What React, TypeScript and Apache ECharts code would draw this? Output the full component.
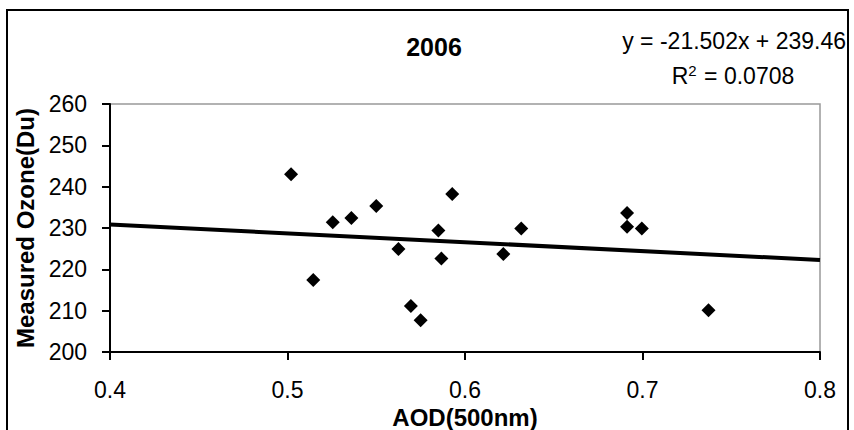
import React, { useEffect, useRef } from "react";
import * as echarts from "echarts";

const aod = [0.502, 0.5145, 0.5255, 0.536, 0.55, 0.5625, 0.5695, 0.575, 0.585, 0.5867, 0.5928, 0.6216, 0.6317, 0.6913, 0.6913, 0.6996, 0.7372];
const ozone = [243.0, 217.4, 231.4, 232.4, 235.3, 224.9, 211.1, 207.7, 229.4, 222.6, 238.2, 223.7, 229.9, 233.6, 230.3, 229.9, 210.1];
const slope = -21.502;
const intercept = 239.46;
const rSquared = "0.0708";
const trendX = [0.4, 0.8];
const xTicks = { min: 0.4, max: 0.8, interval: 0.1 };
const yTicks = { min: 200, max: 260, interval: 10 };
const title = "2006";
const xName = "AOD(500nm)";
const yName = "Measured Ozone(Du)";

const FONT = "'Liberation Sans', Arial, sans-serif";

export default function App() {
  const ref = useRef<HTMLDivElement>(null);
  useEffect(() => {
    if (!ref.current) return;
    const chart = echarts.init(ref.current, null, { renderer: "svg" });
    const points = aod.map((x, i) => [x, ozone[i]]);
    const trend = trendX.map((x) => [x, slope * x + intercept]);
    chart.setOption({
      animation: false,
      backgroundColor: "#fff",
      textStyle: { fontFamily: FONT },
      title: {
        text: title,
        left: 429,
        top: 29,
        textAlign: "center",
        textStyle: { fontFamily: FONT, fontSize: 25, fontWeight: "bold", color: "#000" },
      },
      grid: {
        left: 110,
        right: 34,
        top: 104,
        bottom: 78,
        show: true,
        borderColor: "#999",
        borderWidth: 1.5,
        backgroundColor: "#fff",
        outerBoundsMode: "none",
        containLabel: false,
      },
      xAxis: {
        type: "value",
        min: xTicks.min,
        max: xTicks.max,
        interval: xTicks.interval,
        name: xName,
        nameLocation: "middle",
        nameGap: 52,
        nameTextStyle: { fontFamily: FONT, fontSize: 24, fontWeight: "bold", color: "#000" },
        axisLine: { show: true, onZero: false, lineStyle: { color: "#000", width: 2 } },
        axisTick: { show: true, inside: false, length: 8, lineStyle: { color: "#000", width: 2 } },
        axisLabel: { fontFamily: FONT, fontSize: 23, color: "#000", margin: 26, formatter: (v: number) => v.toFixed(1) },
        splitLine: { show: false },
      },
      yAxis: {
        type: "value",
        min: yTicks.min,
        max: yTicks.max,
        interval: yTicks.interval,
        name: yName,
        nameLocation: "middle",
        nameGap: 69,
        nameTextStyle: { fontFamily: FONT, fontSize: 24, fontWeight: "bold", color: "#000" },
        axisLine: { show: true, onZero: false, lineStyle: { color: "#000", width: 2 } },
        axisTick: { show: true, inside: false, length: 8, lineStyle: { color: "#000", width: 2 } },
        axisLabel: { fontFamily: FONT, fontSize: 23, color: "#000", margin: 23 },
        splitLine: { show: false },
      },
      graphic: [
        {
          type: "rect",
          shape: { x: 7, y: 10, width: 841, height: 440 },
          style: { fill: "none", stroke: "#000", lineWidth: 2 },
          silent: true,
        },
        {
          type: "text",
          x: 846,
          y: 41,
          style: {
            text: `y = ${slope}x + ${intercept}`,
            fontFamily: FONT,
            fontSize: 23,
            fill: "#000",
            align: "right",
            verticalAlign: "middle",
          },
        },
        {
          type: "text",
          x: 733,
          y: 76,
          style: {
            text: `R{sup|2} = ${rSquared}`,
            fontFamily: FONT,
            fontSize: 23,
            fill: "#000",
            align: "center",
            verticalAlign: "middle",
            rich: {
              sup: { fontFamily: FONT, fontSize: 15, fill: "#000", verticalAlign: "top", padding: [0, 1, 12, 0] },
            },
          },
        },
      ],
      series: [
        {
          type: "line",
          data: trend,
          symbol: "none",
          lineStyle: { color: "#000", width: 4 },
          silent: true,
          z: 2,
        },
        {
          type: "scatter",
          data: points,
          symbol: "diamond",
          symbolSize: [14, 14],
          itemStyle: { color: "#000", opacity: 1 },
          z: 3,
        },
      ],
    });
    return () => chart.dispose();
  }, []);
  return <div ref={ref} style={{ position: "fixed", left: 0, top: 0, width: 854, height: 430 }} />;
}
